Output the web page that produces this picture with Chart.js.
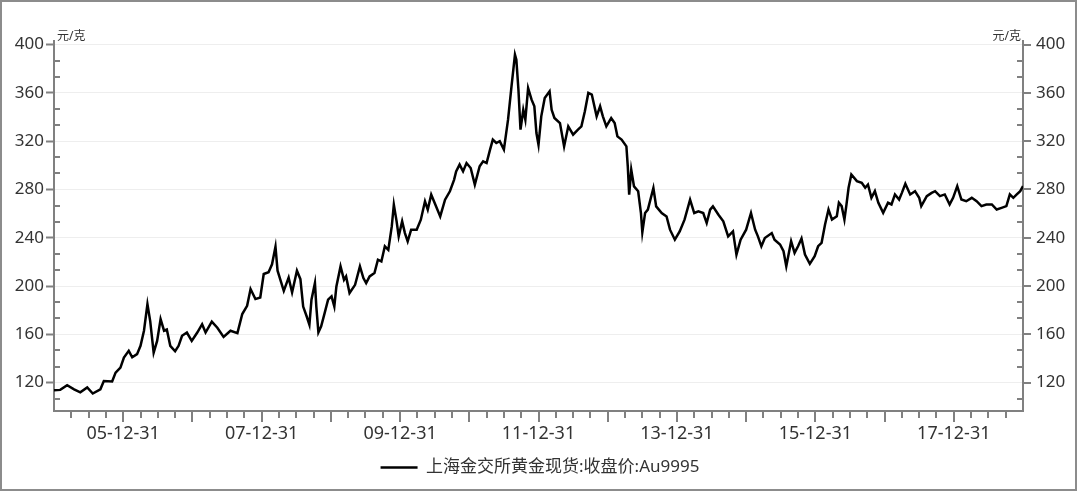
<!DOCTYPE html>
<html>
<head>
<meta charset="utf-8">
<script src="https://cdn.jsdelivr.net/npm/chart.js@4"></script>
<style>
  html, body { margin: 0; padding: 0; background: #fff; }
  #wrap { width: 1080px; height: 492px; }
</style>
</head>
<body>
<div id="wrap"><canvas id="grafica" width="1080" height="492"></canvas></div>
<script>
// decimal years of each reading and the close price (元/克)
const years = [
  2005.00, 2005.09, 2005.19, 2005.29, 2005.38, 2005.48, 2005.56, 2005.67, 2005.72, 2005.84,
  2005.89, 2005.96, 2006.01, 2006.08, 2006.13, 2006.20, 2006.25, 2006.30, 2006.35, 2006.39,
  2006.44, 2006.49, 2006.54, 2006.59, 2006.63, 2006.68, 2006.75, 2006.80, 2006.85, 2006.92,
  2006.99, 2007.07, 2007.14, 2007.19, 2007.28, 2007.36, 2007.45, 2007.55, 2007.65, 2007.72,
  2007.79, 2007.84, 2007.91, 2007.98, 2008.03, 2008.10, 2008.15, 2008.20, 2008.23, 2008.32,
  2008.39, 2008.44, 2008.51, 2008.56, 2008.60, 2008.65, 2008.69, 2008.72, 2008.77, 2008.79,
  2008.82, 2008.86, 2008.91, 2008.96, 2009.01, 2009.05, 2009.08, 2009.14, 2009.19, 2009.22,
  2009.27, 2009.35, 2009.42, 2009.47, 2009.51, 2009.56, 2009.63, 2009.68, 2009.73, 2009.78,
  2009.83, 2009.88, 2009.91, 2009.95, 2009.98, 2010.03, 2010.07, 2010.11, 2010.16, 2010.24,
  2010.30, 2010.36, 2010.40, 2010.45, 2010.50, 2010.58, 2010.65, 2010.72, 2010.78, 2010.81,
  2010.86, 2010.91, 2010.96, 2011.02, 2011.08, 2011.15, 2011.20, 2011.25, 2011.30, 2011.34,
  2011.39, 2011.44, 2011.50, 2011.56, 2011.61, 2011.66, 2011.68, 2011.71, 2011.74, 2011.78,
  2011.81, 2011.85, 2011.90, 2011.94, 2011.97, 2012.00, 2012.04, 2012.09, 2012.16, 2012.19,
  2012.23, 2012.31, 2012.37, 2012.43, 2012.50, 2012.57, 2012.62, 2012.67, 2012.72, 2012.77,
  2012.84, 2012.89, 2012.93, 2012.98, 2013.05, 2013.10, 2013.14, 2013.20, 2013.27, 2013.29,
  2013.31, 2013.34, 2013.38, 2013.44, 2013.48, 2013.50, 2013.54, 2013.58, 2013.66, 2013.70,
  2013.78, 2013.85, 2013.90, 2013.97, 2014.04, 2014.11, 2014.19, 2014.25, 2014.31, 2014.38,
  2014.43, 2014.48, 2014.52, 2014.60, 2014.67, 2014.74, 2014.81, 2014.86, 2014.92, 2015.00,
  2015.07, 2015.13, 2015.17, 2015.22, 2015.27, 2015.37, 2015.41, 2015.49, 2015.54, 2015.58,
  2015.65, 2015.70, 2015.75, 2015.80, 2015.85, 2015.92, 2015.99, 2016.04, 2016.09, 2016.14,
  2016.19, 2016.24, 2016.31, 2016.34, 2016.38, 2016.42, 2016.45, 2016.48, 2016.52, 2016.60,
  2016.67, 2016.72, 2016.76, 2016.81, 2016.86, 2016.91, 2016.98, 2017.05, 2017.10, 2017.15,
  2017.21, 2017.25, 2017.30, 2017.37, 2017.44, 2017.50, 2017.53, 2017.61, 2017.68, 2017.73,
  2017.80, 2017.87, 2017.94, 2017.99, 2018.05, 2018.11, 2018.18, 2018.26, 2018.33, 2018.40,
  2018.47, 2018.55, 2018.62, 2018.69, 2018.76, 2018.81, 2018.86, 2018.91, 2018.96, 2019.00
];
const prices = [
  113.7, 114.0, 117.8, 114.5, 112.0, 116.0, 111.0, 114.5, 121.4, 121.0,
  128.3, 132.5, 140.8, 146.3, 141.0, 143.6, 150.5, 163.0, 185.0, 171.0,
  144.9, 154.6, 172.6, 163.0, 164.0, 150.5, 146.0, 150.5, 158.8, 161.5,
  154.6, 161.5, 168.4, 161.5, 170.6, 165.5, 157.9, 163.0, 161.0, 176.8,
  183.6, 197.5, 189.2, 190.5, 210.0, 211.5, 218.0, 232.6, 212.7, 196.0,
  207.0, 194.7, 212.7, 205.7, 183.0, 175.0, 168.0, 188.7, 202.5, 183.0,
  161.6, 166.6, 177.6, 188.7, 191.4, 183.0, 199.7, 216.3, 205.2, 208.0,
  194.2, 201.0, 216.3, 206.6, 202.5, 208.0, 210.8, 221.8, 220.4, 232.9,
  230.0, 249.4, 267.4, 253.6, 241.2, 253.6, 243.9, 237.0, 246.7, 246.7,
  255.0, 270.2, 263.3, 275.7, 268.8, 257.7, 271.5, 278.5, 288.0, 295.0,
  300.6, 295.0, 301.9, 297.8, 284.0, 299.2, 303.3, 301.9, 313.0, 321.3,
  318.5, 320.0, 313.0, 337.8, 365.5, 391.7, 387.6, 362.7, 329.6, 346.0,
  337.8, 364.0, 354.4, 348.9, 326.8, 317.0, 340.6, 355.8, 361.3, 346.0,
  339.2, 335.0, 315.7, 332.3, 325.4, 329.6, 332.3, 344.8, 360.0, 358.6,
  340.6, 348.9, 340.6, 332.3, 339.2, 335.0, 324.0, 321.3, 315.7, 299.2,
  275.7, 296.4, 282.6, 278.5, 260.5, 244.5, 260.5, 263.3, 281.2, 266.0,
  260.5, 257.7, 246.7, 238.4, 245.3, 255.0, 271.5, 260.5, 261.9, 260.5,
  252.2, 263.3, 266.0, 259.1, 253.6, 241.2, 245.3, 226.0, 238.4, 246.7,
  260.5, 246.7, 241.2, 232.9, 239.8, 243.9, 238.4, 234.4, 228.9, 216.4,
  237.2, 227.5, 233.0, 239.4, 226.1, 218.4, 224.8, 233.0, 235.8, 251.0,
  263.4, 255.1, 257.9, 269.0, 266.2, 255.1, 267.6, 281.4, 292.4, 286.9,
  285.5, 281.4, 284.1, 273.1, 278.6, 269.0, 260.7, 269.0, 267.6, 275.9,
  271.7, 277.2, 284.7, 275.9, 278.6, 273.1, 266.2, 274.5, 277.2, 278.6,
  274.5, 275.9, 267.6, 273.1, 282.8, 271.7, 270.3, 273.1, 270.3, 266.2,
  267.6, 267.6, 263.4, 264.8, 266.2, 275.9, 273.1, 275.9, 278.6, 282.8
];
const yTicks = [120, 160, 200, 240, 280, 320, 360, 400];
const xTickYears = [2006, 2008, 2010, 2012, 2014, 2016, 2018];
const xTickLabels = ['05-12-31', '07-12-31', '09-12-31', '11-12-31', '13-12-31', '15-12-31', '17-12-31'];
const seriesName = '上海金交所黄金现货:收盘价:Au9995';
const unitLabel = '元/克';

const axisGrey = '#808080';
const textColor = '#333333';
const fontFamily = '"Noto Sans", "Noto Sans CJK SC", sans-serif';

const points = years.map((yr, i) => ({ x: yr, y: prices[i] }));

// minor ticks (inside on y, quarters on x), frame and unit labels
const decor = {
  id: 'decor',
  beforeDraw(chart) {
    const ctx = chart.ctx;
    ctx.save();
    ctx.strokeStyle = '#8c8c8c';
    ctx.lineWidth = 2;
    ctx.strokeRect(1, 1, 1075, 489);
    ctx.restore();
  },
  afterDraw(chart) {
    const { ctx, chartArea: a, scales } = chart;
    const y = scales.y, x = scales.x;
    ctx.save();
    ctx.strokeStyle = axisGrey;
    ctx.lineWidth = 2;
    ctx.beginPath();
    for (let k = 1; k < 30; k++) {
      if (k % 3 === 0) continue;
      const v = 400 - k * 40 / 3;
      if (v <= y.min) break;
      const py = Math.round(y.getPixelForValue(v));
      ctx.moveTo(a.left, py); ctx.lineTo(a.left + 6, py);
      ctx.moveTo(a.right, py); ctx.lineTo(a.right - 6, py);
    }
    for (let q = 2005 * 4 + 1; q < 2019 * 4; q++) {
      if (q % 4 === 0) continue;
      const px = Math.round(x.getPixelForValue(q / 4));
      ctx.moveTo(px, a.bottom); ctx.lineTo(px, a.bottom + 7);
    }
    ctx.stroke();

    ctx.fillStyle = textColor;
    ctx.font = '12px ' + fontFamily;
    ctx.textBaseline = 'middle';
    ctx.textAlign = 'left';
    ctx.fillText(unitLabel, a.left + 3, 37);
    ctx.textAlign = 'right';
    ctx.fillText(unitLabel, a.right - 2, 37);
    ctx.restore();
  }
};

const yBase = {
  min: 96.5,
  max: 403,
  afterBuildTicks: (scale) => { scale.ticks = yTicks.map(v => ({ value: v })); },
  border: { color: axisGrey, width: 2 },
  ticks: { color: textColor, font: { size: 17, family: fontFamily } }
};

new Chart(document.getElementById('grafica'), {
  type: 'line',
  data: {
    datasets: [{
      label: seriesName,
      data: points,
      borderColor: '#000000',
      backgroundColor: '#000000',
      borderWidth: 2.5,
      pointRadius: 0,
      tension: 0,
      pointStyle: 'line'
    }]
  },
  options: {
    responsive: false,
    animation: false,
    layout: { padding: { top: 41, left: 0, right: 0, bottom: 6 } },
    scales: {
      x: {
        type: 'linear',
        min: 2005,
        max: 2019,
        afterBuildTicks: (scale) => {
          const t = [];
          for (let yr = 2006; yr <= 2018; yr++) t.push({ value: yr });
          scale.ticks = t;
        },
        afterFit: (scale) => { scale.height = 38; },
        border: { color: axisGrey, width: 2 },
        grid: { drawOnChartArea: false, color: axisGrey, lineWidth: 2, tickLength: 11 },
        ticks: {
          autoSkip: false,
          maxRotation: 0,
          padding: 1,
          color: textColor,
          font: { size: 18, family: fontFamily },
          callback: (value) => {
            const i = xTickYears.indexOf(Math.round(value));
            return i >= 0 ? xTickLabels[i] : '';
          }
        }
      },
      y: Object.assign({}, yBase, {
        position: 'left',
        afterFit: (scale) => { scale.width = 54; },
        grid: { color: '#eeeeee', lineWidth: 1, tickColor: axisGrey, tickWidth: 2, tickLength: 8 },
        ticks: Object.assign({}, yBase.ticks, { padding: 2 })
      }),
      y2: Object.assign({}, yBase, {
        position: 'right',
        afterFit: (scale) => { scale.width = 57; },
        grid: { drawOnChartArea: false, color: axisGrey, lineWidth: 2, tickLength: 8 },
        ticks: Object.assign({}, yBase.ticks, { padding: 5 })
      })
    },
    plugins: {
      tooltip: { enabled: false },
      legend: {
        position: 'bottom',
        labels: {
          usePointStyle: true,
          pointStyleWidth: 37,
          color: textColor,
          font: { size: 17, family: fontFamily },
          padding: 10
        }
      }
    }
  },
  plugins: [decor]
});
</script>
</body>
</html>
